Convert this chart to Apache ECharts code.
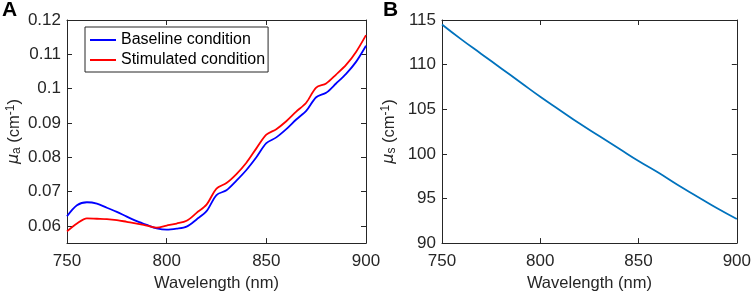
<!DOCTYPE html>
<html>
<head>
<meta charset="utf-8">
<script src="https://cdn.jsdelivr.net/npm/echarts@6/dist/echarts.min.js"></script>
<style>
  html, body { margin: 0; padding: 0; background: #fff; }
  #main { width: 754px; height: 297px; }
</style>
</head>
<body>
<div id="main"></div>
<script>
// wavelengths (nm), 5 nm steps for panel A
var wlA = [750, 755, 760, 765, 770, 775, 780, 785, 790, 795, 800, 805, 810, 815, 820, 825, 830, 835, 840, 845, 850, 855, 860, 865, 870, 875, 880, 885, 890, 895, 900];
var baseline = [0.0628, 0.0660, 0.0669, 0.0665, 0.0653, 0.0641, 0.0627, 0.0614, 0.0603, 0.0593, 0.0589, 0.0592, 0.0598, 0.0619, 0.0643, 0.0690, 0.0704, 0.0732, 0.0763, 0.0800, 0.0841, 0.0858, 0.0882, 0.0910, 0.0935, 0.0975, 0.0988, 0.1015, 0.1043, 0.1078, 0.1125];
var stimulated = [0.0584, 0.0607, 0.0622, 0.0621, 0.0620, 0.0617, 0.0612, 0.0607, 0.0601, 0.0595, 0.0601, 0.0607, 0.0615, 0.0638, 0.0662, 0.0709, 0.0725, 0.0751, 0.0784, 0.0826, 0.0866, 0.0882, 0.0905, 0.0933, 0.0959, 0.1003, 0.1015, 0.1041, 0.1069, 0.1107, 0.1156];

// panel B, 10 nm steps
var wlB = [750, 760, 770, 780, 790, 800, 810, 820, 830, 840, 850, 860, 870, 880, 890, 900];
var scattering = [114.5, 112.8, 111.2, 109.6, 108.0, 106.4, 104.9, 103.4, 102.0, 100.6, 99.2, 97.9, 96.5, 95.2, 93.9, 92.7];

var seriesNames = ['Baseline condition', 'Stimulated condition'];

function pairs(xs, ys) {
  var out = [];
  for (var i = 0; i < xs.length; i++) {
    out.push([xs[i], ys[i]]);
  }
  return out;
}

var font = 'Liberation Sans, Arial, sans-serif';
var ink = '#262626';

function xAxisFor(gridIndex, withLabels) {
  return {
    type: 'value', gridIndex: gridIndex, min: 750, max: 900, interval: 50,
    position: withLabels ? 'bottom' : 'top',
    name: withLabels ? 'Wavelength (nm)' : '',
    nameLocation: 'middle', nameGap: 29,
    nameTextStyle: { fontFamily: font, fontSize: 16.5, color: ink },
    axisLine: { show: true, lineStyle: { color: ink, width: 1 } },
    axisTick: { show: true, inside: true, length: 5, lineStyle: { color: ink } },
    axisLabel: { show: withLabels, fontFamily: font, fontSize: 17, color: ink, margin: 10 },
    splitLine: { show: false }
  };
}

// step is forced through minInterval/maxInterval so ticks stay on round values
function yAxisFor(gridIndex, min, max, step, withLabels, nameRich, fmt) {
  return {
    type: 'value', gridIndex: gridIndex, min: min, max: max,
    minInterval: step, maxInterval: step, splitNumber: 6,
    position: withLabels ? 'left' : 'right',
    name: withLabels ? nameRich : '',
    nameLocation: 'middle', nameGap: 44, nameRotate: 90,
    nameTextStyle: {
      fontFamily: font, fontSize: 16.5, color: ink,
      rich: {
        mu: { fontFamily: 'DejaVu Sans, sans-serif', fontStyle: 'italic', fontSize: 16, color: ink },
        sub: { fontFamily: font, fontSize: 12, color: ink, verticalAlign: 'bottom', padding: [6, 0, 0, 0] },
        sup: { fontFamily: font, fontSize: 12, color: ink, verticalAlign: 'top', padding: [0, 0, 6, 0] },
        t: { fontFamily: font, fontSize: 16.5, color: ink }
      }
    },
    axisLine: { show: true, lineStyle: { color: ink, width: 1 } },
    axisTick: { show: true, inside: true, length: 5, lineStyle: { color: ink } },
    axisLabel: { show: withLabels, fontFamily: font, fontSize: 17, color: ink, margin: 6, formatter: fmt },
    splitLine: { show: false }
  };
}

var chart = echarts.init(document.getElementById('main'));

var option = {
  backgroundColor: '#fff',
  animation: false,
  grid: [
    { left: 67, right: 388, top: 20, bottom: 46 },
    { left: 442, right: 14, top: 20, bottom: 46 }
  ],
  xAxis: [
    xAxisFor(0, true),
    xAxisFor(0, false),
    xAxisFor(1, true),
    xAxisFor(1, false)
  ],
  yAxis: [
    yAxisFor(0, 0.055, 0.12, 0.01, true, '{mu|μ}{sub|a}{t| (cm}{sup|-1}{t|)}', function (v) {
      if (v < 0.0575) return '';
      return String(Math.round(v * 100) / 100);
    }),
    yAxisFor(0, 0.055, 0.12, 0.01, false, ''),
    yAxisFor(1, 90, 115, 5, true, '{mu|μ}{sub|s}{t| (cm}{sup|-1}{t|)}'),
    yAxisFor(1, 90, 115, 5, false, '')
  ],
  legend: {
    orient: 'vertical',
    left: 85, top: 27,
    data: seriesNames,
    itemWidth: 26, itemHeight: 2, itemGap: 4,
    padding: [5, 3, 4, 4],
    borderColor: ink, borderWidth: 1, backgroundColor: '#fff',
    textStyle: { fontFamily: font, fontSize: 16, color: '#000' }
  },
  graphic: [
    { type: 'text', left: 2, top: 0, style: { text: 'A', fontFamily: font, fontSize: 21, fontWeight: 'bold', fill: '#000' } },
    { type: 'text', left: 383, top: 0, style: { text: 'B', fontFamily: font, fontSize: 21, fontWeight: 'bold', fill: '#000' } }
  ],
  series: [
    {
      name: seriesNames[0], type: 'line', xAxisIndex: 0, yAxisIndex: 0,
      data: pairs(wlA, baseline), symbol: 'none', smooth: 0.3,
      lineStyle: { color: '#0000ff', width: 1.8 }, itemStyle: { color: '#0000ff' }
    },
    {
      name: seriesNames[1], type: 'line', xAxisIndex: 0, yAxisIndex: 0,
      data: pairs(wlA, stimulated), symbol: 'none', smooth: 0.3,
      lineStyle: { color: '#ff0000', width: 1.8 }, itemStyle: { color: '#ff0000' }
    },
    {
      name: 'scattering', type: 'line', xAxisIndex: 2, yAxisIndex: 2,
      data: pairs(wlB, scattering), symbol: 'none', smooth: true,
      lineStyle: { color: '#0072bd', width: 1.8 }, itemStyle: { color: '#0072bd' }
    }
  ]
};

chart.setOption(option);
</script>
</body>
</html>
